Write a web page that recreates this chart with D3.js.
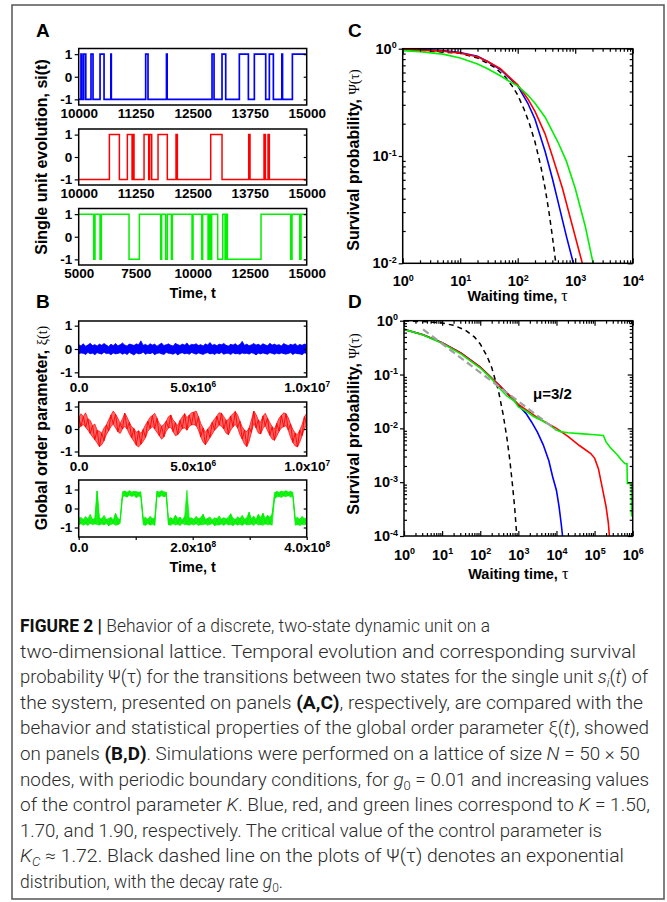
<!DOCTYPE html>
<html><head><meta charset="utf-8">
<script src="https://cdn.jsdelivr.net/npm/d3@7"></script>
<style>body{margin:0;background:#fff}svg{display:block}</style>
</head><body>
<svg id="fig" width="667" height="902"></svg>
<script>
// ---------------- DATA ----------------
// Panel A: single unit s_i(t), state flips (times), starting states
const aTicks12 = [10000, 11250, 12500, 13750, 15000];
const aTicks3 = [5000, 7500, 10000, 12500, 15000];
const stateTicks = [-1, 0, 1];
const blueStartA = -1, redStartA = -1, greenStartA = 1;
const blueFlipsA = [10050,10070,10110,10155,10270,10314,10468,10556,10705,10715,11469,11520,11925,11940,12924,12968,13143,13224,13523,13721,13852,14101,14181,14269,14455,14470,14686];
const redFlipsA = [10673,10892,11067,11170,11184,11213,11433,11535,11557,11601,11740,11943,12134,12164,12895,13143,13728,13757,14064,14094,14152,14181];
const greenFlipsA = [5658,5716,5936,5994,7208,7661,8597,8640,8816,8889,9064,9108,9971,10015,10395,10439,10673,10731,10790,10833,11096,11316,11418,11462,11521,12997,14298,14357,14693,14752];

// Panel B: global order parameter xi(t); upper / lower envelope of the
// fast fluctuations (values x100), evenly sampled in time
const bTimeMax12 = 1e7, bTimeMax3 = 4e8;
const bTicks12 = [0, 5e6, 1e7];
const bTickLabels12 = [["0.0",""],["5.0x10","6"],["1.0x10","7"]];
const bTicks3 = [0, 2e8, 4e8];
const bMinor3 = [1e8, 3e8];
const bTickLabels3 = [["0.0",""],["2.0x10","8"],["4.0x10","8"]];
const blueHi100 = [18,14,22,12,17,25,15,19,13,21,16,24,17,11,20,15,23,14,18,26,
17,13,21,19,15,22,18,35,16,20,14,23,17,21,12,19,25,15,18,22,
16,13,24,19,15,21,17,26,14,20,18,23,15,19,13,22,17,28,16,20,
14,21,18,24,16,13,20,17,22,15,19,33,16,21,14,18,23,17,20,15,
22,18,14,25,17,21,16,19,13,24,18,15,20,17,22,14,19,16,21,18];
const blueLo100 = [-21,-17,-19,-23,-15,-20,-18,-24,-16,-19,-22,-14,-20,-18,-25,-17,-21,-19,-16,-22,
-18,-23,-15,-20,-26,-17,-21,-19,-14,-22,-18,-20,-16,-24,-19,-17,-21,-23,-15,-18,
-20,-22,-17,-25,-19,-16,-21,-18,-23,-15,-19,-22,-17,-20,-24,-18,-16,-21,-19,-23,
-17,-20,-15,-22,-19,-18,-24,-16,-21,-19,-23,-17,-20,-18,-22,-16,-19,-25,-18,-21,
-17,-20,-23,-16,-19,-22,-18,-21,-17,-20,-22,-19,-16,-23,-18,-20,-21,-24,-17,-19];
const redHi100 = [50,68,55,72,45,38,15,22,-5,-10,-18,5,18,40,62,80,66,48,25,45,
70,52,30,10,2,-15,-8,-20,-2,18,35,52,60,70,48,25,12,20,35,55,
62,40,28,15,38,55,68,50,62,72,75,80,55,25,5,-15,0,12,30,45,
58,72,70,55,38,42,58,68,78,62,35,10,-5,-12,5,40,80,65,40,30,
58,70,48,28,10,0,25,48,60,72,68,50,22,-2,-18,-25,-5,20,55,70];
const redLo100 = [5,12,20,8,-5,-20,-35,-48,-62,-78,-70,-52,-25,-8,10,22,5,-12,-20,0,
12,0,-22,-40,-55,-72,-80,-68,-55,-38,-10,2,10,0,-15,-30,-45,-35,-10,5,
8,-12,-30,-25,-12,2,5,-5,12,18,20,15,-5,-35,-58,-70,-55,-38,-22,-5,
5,18,12,0,-18,-25,-5,10,20,5,-25,-45,-68,-78,-55,-15,25,5,-18,-22,
2,15,-8,-28,-45,-50,-32,-10,5,10,15,-5,-38,-60,-75,-80,-58,-30,0,18];
const greenHi100 = [-50,-47,-58,-42,-55,-30,-57,-52,
92,
-50,-54,-36,-58,-52,-47,-60,-26,-52,-57,
88,92,85,93,87,90,89,86,88,
-52,-46,-57,-41,-54,-49,
91,87,93,88,85,
-54,-49,-57,-36,-52,-46,-60,-43,
96,
-51,-49,-58,-41,-54,-47,-31,-57,-52,-45,-60,-49,-54,-39,-57,-48,-55,-46,-28,-51,
-58,-43,-53,-36,-56,-47,-20,-54,-41,-57,-31,-49,-25,-51,-36,-46,-30,
84,89,86,91,88,93,87,90,85,
-52,-46,-57,-41,-54,-49];
const greenLo100 = [-86,-80,-88,-82,-89,-78,-85,-81,
-84,
-87,-82,-86,-79,-90,-84,-80,-88,-85,-79,
62,66,60,70,64,68,58,65,62,
-86,-88,-80,-87,-83,-88,
64,60,68,62,66,
-86,-88,-80,-87,-83,-90,-78,-86,
-84,
-88,-82,-87,-80,-89,-84,-86,-81,-88,-83,-79,-90,-85,-87,-82,-88,-80,-86,-84,-89,
-81,-87,-83,-88,-80,-86,-85,-82,-89,-78,-87,-84,-88,-81,-86,-83,-88,
50,60,64,58,66,62,68,60,64,
-88,-84,-90,-83,-86,-82];

// Panel C: survival probability of single unit
const expTauC = [1,10,20,40,60,80,100,130,160,200,250,300,350,400,460];
const expPsiC = [0.99,0.905,0.82,0.67,0.55,0.45,0.37,0.27,0.2,0.135,0.082,0.05,0.03,0.018,0.01];
const blueTauC = [1,2,5,10,20,30,50,70,100,150,200,300,400,500,700,930];
const bluePsiC = [0.985,0.98,0.96,0.92,0.85,0.76,0.64,0.54,0.45,0.31,0.22,0.11,0.062,0.038,0.018,0.01];
const redTauC = [1,2,5,10,20,30,50,70,100,150,200,300,400,600,900,1330];
const redPsiC = [0.98,0.97,0.95,0.91,0.84,0.76,0.65,0.55,0.46,0.34,0.26,0.16,0.1,0.05,0.022,0.01];
const greenTauC = [1,2,5,10,20,30,50,70,100,150,200,300,500,700,1000,1500,2050];
const greenPsiC = [0.96,0.94,0.89,0.82,0.72,0.65,0.56,0.5,0.45,0.37,0.31,0.23,0.135,0.09,0.05,0.022,0.01];

// Panel D: survival probability of global order parameter
const expTauD = [1,5,10,20,40,70,100,150,200,300,400,500,600,700,800,910];
const expPsiD = [0.99,0.95,0.905,0.82,0.67,0.5,0.37,0.22,0.135,0.05,0.018,0.0067,0.0025,0.0009,0.00034,0.0001];
const blueTauD = [1,3.16,10,31.6,100,316,1000,1580,2240,3160,4470,6310,7940,10000,11700,13200,14450];
const bluePsiD = [0.69,0.55,0.39,0.25,0.138,0.063,0.027,0.019,0.013,0.0085,0.005,0.0025,0.00126,0.0007,0.00035,0.000178,0.0001];
const redTauD = [1,3.16,10,31.6,100,316,1000,3160,10000,20000,40000,79400,100000,126000,158000,200000,229000,245000];
const redPsiD = [0.69,0.55,0.39,0.25,0.138,0.063,0.028,0.0158,0.010,0.0071,0.0048,0.0034,0.0028,0.00178,0.00081,0.00035,0.000178,0.0001];
const greenTauD = [1,3.16,10,31.6,100,200,316,500,794,1000,1580,2510,3980,6310,10000,12600,20000,50000,100000,170000,200000,251000,316000,398000,500000,630000,708000,724000,933000,933000];
const greenPsiD = [0.69,0.54,0.38,0.24,0.132,0.083,0.056,0.04,0.032,0.025,0.021,0.0166,0.0141,0.0117,0.0093,0.0087,0.0083,0.0079,0.0076,0.0074,0.0056,0.0045,0.0038,0.0032,0.0026,0.0022,0.0022,0.00095,0.00095,0.00023];
const powTauD = [3.16, 10000];
const powPsiD = [0.69, 0.0093];

// ---------------- DRAWING ----------------
const SANS = "'Liberation Sans', Arial, Helvetica, sans-serif";
const SERIF = "'Liberation Serif', 'Times New Roman', serif";
const BLUE = "#0000ff", RED = "#ff0000", GREEN = "#00f000";
const svg = d3.select("#fig");
svg.append("rect").attr("width",667).attr("height",902).attr("fill","#fff");
svg.append("rect").attr("x",12).attr("y",5).attr("width",652).attr("height",894)
  .attr("fill","none").attr("stroke","#555").attr("stroke-width",1.5);

let clipId = 0;
function clip(x0,y0,x1,y1){
  const id = "clip"+(clipId++);
  svg.append("clipPath").attr("id",id).append("rect").attr("x",x0).attr("y",y0).attr("width",x1-x0).attr("height",y1-y0);
  return "url(#"+id+")";
}
function styleAxis(g, size){
  g.select(".domain").remove();
  g.attr("font-family",SANS).attr("font-size",size).attr("font-weight","bold");
  g.selectAll("line").attr("stroke","#000").attr("stroke-width",1.2);
  g.selectAll("text").attr("fill","#000");
}
function frame(x0,y0,x1,y1){
  svg.append("rect").attr("x",x0).attr("y",y0).attr("width",x1-x0).attr("height",y1-y0)
    .attr("fill","none").attr("stroke","#000").attr("stroke-width",1.5);
}
function supText(sel, base, exp){
  sel.text(null);
  sel.append("tspan").text(base);
  if (exp !== "") sel.append("tspan").attr("dy","-0.6em").attr("font-size","0.62em").text(exp);
}

const AX0 = 78.7, AX1 = 306.7;
const TICKFS = 13.5;

function timePanel(o){
  const x = d3.scaleLinear().domain(o.xDomain).range([AX0,AX1]);
  const y = d3.scaleLinear().domain(o.yDomain).range([o.y1,o.y0]);
  const cp = clip(AX0,o.y0,AX1,o.y1);
  if (o.pts){
    svg.append("path").datum(o.pts).attr("clip-path",cp)
      .attr("fill","none").attr("stroke",o.color).attr("stroke-width",o.lw)
      .attr("d", d3.line().x(d=>x(d[0])).y(d=>y(d[1])));
  }
  if (o.band){
    const n = o.band.hi.length;
    const rows = o.band.hi.map((h,i)=>({t:i/(n-1)*o.xDomain[1], hi:h/100, lo:o.band.lo[i]/100}));
    svg.append("path").datum(rows).attr("clip-path",cp)
      .attr("fill",o.color).attr("fill-opacity",o.op||1).attr("stroke",o.color).attr("stroke-width",0.7)
      .attr("d", d3.area().x(d=>x(d.t)).y0(d=>y(d.lo)).y1(d=>y(d.hi)));
    const zz = [];
    rows.forEach((r,i)=>{ zz.push([r.t, i%2 ? r.lo : r.hi]); });
    svg.append("path").datum(zz).attr("clip-path",cp)
      .attr("fill","none").attr("stroke",o.color).attr("stroke-width",0.9)
      .attr("d", d3.line().x(d=>x(d[0])).y(d=>y(d[1])));
  }
  const gl = svg.append("g").attr("transform",`translate(${AX0},0)`)
    .call(d3.axisLeft(y).tickValues(stateTicks).tickSize(4).tickPadding(2.5).tickFormat(d=>String(d)));
  styleAxis(gl, TICKFS);
  const gr = svg.append("g").attr("transform",`translate(${AX1},0)`)
    .call(d3.axisLeft(y).tickValues(stateTicks).tickSize(3).tickFormat(""));
  styleAxis(gr, TICKFS);
  const gb = svg.append("g").attr("transform",`translate(0,${o.y1})`)
    .call(d3.axisBottom(x).tickValues(o.xTicks).tickSize(o.bTick||0).tickPadding(o.pad)
      .tickFormat(d=> o.labels ? "" : String(d)));
  styleAxis(gb, TICKFS);
  if (o.labels) gb.selectAll(".tick text").each(function(d,i){ supText(d3.select(this), o.labels[i][0], o.labels[i][1]); });
  if (o.minor){
    const gm = svg.append("g").attr("transform",`translate(0,${o.y1})`)
      .call(d3.axisBottom(x).tickValues(o.minor).tickSize(3).tickFormat(""));
    styleAxis(gm, TICKFS);
  }
  frame(AX0,o.y0,AX1,o.y1);
}

function stepPts(t0,t1,s0,flips){
  const pts=[[t0,s0]]; let s=s0;
  for (const t of flips){ pts.push([t,s]); s=-s; pts.push([t,s]); }
  pts.push([t1,s]); return pts;
}

// Panel A
timePanel({y0:48.5,y1:105,xDomain:[10000,15000],yDomain:[-1.25,1.25],xTicks:aTicks12,pad:3.5,
  pts:stepPts(10000,15000,blueStartA,blueFlipsA),color:BLUE,lw:1.7});
timePanel({y0:129,y1:185,xDomain:[10000,15000],yDomain:[-1.25,1.25],xTicks:aTicks12,pad:3.5,
  pts:stepPts(10000,15000,redStartA,redFlipsA),color:RED,lw:1.5});
timePanel({y0:208.5,y1:265,xDomain:[5000,15000],yDomain:[-1.25,1.25],xTicks:aTicks3,pad:3.5,
  pts:stepPts(5000,15000,greenStartA,greenFlipsA),color:GREEN,lw:1.5});

// Panel B
timePanel({y0:321,y1:377,xDomain:[0,bTimeMax12],yDomain:[-1.2,1.2],xTicks:bTicks12,labels:bTickLabels12,pad:5,
  band:{hi:blueHi100,lo:blueLo100},color:BLUE});
timePanel({y0:402,y1:456,xDomain:[0,bTimeMax12],yDomain:[-1.2,1.2],xTicks:bTicks12,labels:bTickLabels12,pad:5,
  band:{hi:redHi100,lo:redLo100},color:RED,op:0.6});
timePanel({y0:480,y1:537,xDomain:[0,bTimeMax3],yDomain:[-1.5,1.5],xTicks:bTicks3,labels:bTickLabels3,pad:2,bTick:3,minor:bMinor3,
  band:{hi:greenHi100,lo:greenLo100},color:GREEN,op:0.9});

// Log panels
function decades(lo,hi){ const r=[]; for(let e=lo;e<=hi;e++) r.push(Math.pow(10,e)); return r; }
function minors(lo,hi){ const r=[]; for(let e=lo;e<hi;e++) for(let k=2;k<=9;k++) r.push(k*Math.pow(10,e)); return r; }
function logPanel(o){
  const x = d3.scaleLog().domain([1,Math.pow(10,o.xe)]).range([o.x0,o.x1]);
  const y = d3.scaleLog().domain([Math.pow(10,o.ye),1]).range([o.y1,o.y0]);
  const MX = decades(0,o.xe), mx = minors(0,o.xe), MY = decades(o.ye,0), my = minors(o.ye,0);
  const cp = clip(o.x0,o.y0,o.x1,o.y1);
  const line = d3.line().x(d=>x(d[0])).y(d=>y(d[1]));
  o.series.forEach(s=>{
    const pts = s.tau.map((t,i)=>[t,s.psi[i]]);
    svg.append("path").datum(pts).attr("clip-path",cp).attr("fill","none")
      .attr("stroke",s.color).attr("stroke-width",s.lw).attr("stroke-dasharray",s.dash||null)
      .attr("d",line);
  });
  const fs = 14.5;
  const gl = svg.append("g").attr("transform",`translate(${o.x0},0)`)
    .call(d3.axisLeft(y).tickValues(MY).tickSize(4).tickPadding(2).tickFormat(""));
  styleAxis(gl, fs);
  gl.selectAll(".tick text").each(function(d){ supText(d3.select(this),"10",String(Math.round(Math.log10(d)))); });
  styleAxis(svg.append("g").attr("transform",`translate(${o.x0},0)`).call(d3.axisRight(y).tickValues(my).tickSize(3).tickFormat("")), fs);
  styleAxis(svg.append("g").attr("transform",`translate(${o.x1},0)`).call(d3.axisLeft(y).tickValues(MY).tickSize(5).tickFormat("")), fs);
  styleAxis(svg.append("g").attr("transform",`translate(${o.x1},0)`).call(d3.axisLeft(y).tickValues(my).tickSize(3).tickFormat("")), fs);
  styleAxis(svg.append("g").attr("transform",`translate(0,${o.y0})`).call(d3.axisBottom(x).tickValues(MX).tickSize(5).tickFormat("")), fs);
  styleAxis(svg.append("g").attr("transform",`translate(0,${o.y0})`).call(d3.axisBottom(x).tickValues(mx).tickSize(3).tickFormat("")), fs);
  styleAxis(svg.append("g").attr("transform",`translate(0,${o.y1})`).call(d3.axisTop(x).tickValues(MX).tickSize(5).tickFormat("")), fs);
  styleAxis(svg.append("g").attr("transform",`translate(0,${o.y1})`).call(d3.axisTop(x).tickValues(mx).tickSize(3).tickFormat("")), fs);
  const gb = svg.append("g").attr("transform",`translate(0,${o.y1})`)
    .call(d3.axisBottom(x).tickValues(MX).tickSize(0).tickPadding(o.pad).tickFormat(""));
  styleAxis(gb, fs);
  gb.selectAll(".tick text").each(function(d){ supText(d3.select(this),"10",String(Math.round(Math.log10(d)))); });
  frame(o.x0,o.y0,o.x1,o.y1);
}

logPanel({x0:402.7,x1:632.7,y0:48.7,y1:263.3,xe:4,ye:-2,pad:12.5,series:[
  {tau:expTauC,psi:expPsiC,color:"#000",lw:1.5,dash:"5,4"},
  {tau:blueTauC,psi:bluePsiC,color:BLUE,lw:1.6},
  {tau:redTauC,psi:redPsiC,color:RED,lw:1.6},
  {tau:greenTauC,psi:greenPsiC,color:GREEN,lw:1.6}]});
logPanel({x0:404,x1:632.7,y0:320.7,y1:536,xe:6,ye:-4,pad:13.5,series:[
  {tau:expTauD,psi:expPsiD,color:"#000",lw:1.5,dash:"5,4"},
  {tau:blueTauD,psi:bluePsiD,color:BLUE,lw:1.6},
  {tau:redTauD,psi:redPsiD,color:RED,lw:1.6},
  {tau:greenTauD,psi:greenPsiD,color:GREEN,lw:1.6},
  {tau:powTauD,psi:powPsiD,color:"#a0a0a0",lw:2.2,dash:"7,4"}]});

svg.append("text").attr("x",533).attr("y",399).attr("font-family",SANS).attr("font-weight","bold")
  .attr("font-size",15).text("\u03bc=3/2");

// Titles
function txt(x,y,size,str,anchor){
  return svg.append("text").attr("x",x).attr("y",y).attr("font-family",SANS).attr("font-weight","bold")
    .attr("font-size",size).attr("text-anchor",anchor||"middle").attr("fill","#000").text(str);
}
txt(36,37,19,"A","start"); txt(36,308,19,"B","start");
txt(348,37,19,"C","start"); txt(348,308,19,"D","start");
txt(192.7,297.5,14.5,"Time, t"); txt(192.7,571.5,14.5,"Time, t");
function waiting(x,y){
  const t = txt(x,y,14.5,"");
  t.append("tspan").text("Waiting time, ");
  t.append("tspan").attr("font-family",SERIF).attr("font-weight","normal").attr("font-size",16).text("\u03c4");
}
waiting(517.7,301); waiting(518.3,578.5);
function ylab(cx,cy,main,sym){
  const t = svg.append("text").attr("transform",`translate(${cx},${cy}) rotate(-90)`)
    .attr("text-anchor","middle").attr("font-family",SANS).attr("font-weight","bold").attr("font-size",16).attr("fill","#000");
  t.append("tspan").text(main);
  if (sym) t.append("tspan").attr("font-family",SERIF).attr("font-weight","normal").attr("font-size",14).text(sym);
}
ylab(47,157,"Single unit evolution, si(t)");
ylab(47,428,"Global order parameter, ","\u03be(t)");
ylab(359,160,"Survival probability, ","\u03a8(\u03c4)");
ylab(359,424,"Survival probability, ","\u03a8(\u03c4)");

// Caption
const captionLines = [
 [["FIGURE 2 |","b"],[" Behavior of a discrete, two-state dynamic unit on a","n"]],
 [["two-dimensional lattice. Temporal evolution and corresponding survival","n"]],
 [["probability \u03a8(\u03c4) for the transitions between two states for the single unit ","n"],["s","i"],["i","isub"],["(","n"],["t","i"],[") of","n"]],
 [["the system, presented on panels ","n"],["(A,C)","b"],[", respectively, are compared with the","n"]],
 [["behavior and statistical properties of the global order parameter \u03be(","n"],["t","i"],["), showed","n"]],
 [["on panels ","n"],["(B,D)","b"],[". Simulations were performed on a lattice of size ","n"],["N","i"],[" = 50 \u00d7 50","n"]],
 [["nodes, with periodic boundary conditions, for ","n"],["g","i"],["0","sub"],[" = 0.01 and increasing values","n"]],
 [["of the control parameter ","n"],["K","i"],[". Blue, red, and green lines correspond to ","n"],["K","i"],[" = 1.50,","n"]],
 [["1.70, and 1.90, respectively. The critical value of the control parameter is","n"]],
 [["K","i"],["C","isub"],[" \u2248 1.72. Black dashed line on the plots of \u03a8(\u03c4) denotes an exponential","n"]],
 [["distribution, with the decay rate ","n"],["g","i"],["0","sub"],[".","n"]]
];
const captionEnds = [490,636,648,643,649,640,649,650,602,624,283];
captionLines.forEach((segs,li)=>{
  const t = svg.append("text").attr("x",20).attr("y",632+li*25.6)
    .attr("font-family","Roboto, 'Liberation Sans', sans-serif").attr("font-weight",300)
    .attr("font-size",17.5).attr("fill","#2a2a2a")
    .attr("textLength",captionEnds[li]-20).attr("lengthAdjust","spacingAndGlyphs");
  let shifted = false;
  segs.forEach(([s,st])=>{
    const sp = t.append("tspan").text(s);
    if (st==="b") sp.attr("font-weight","bold").attr("fill","#111");
    if (st==="i"||st==="isub") sp.attr("font-style","italic");
    if (st==="sub"||st==="isub"){ sp.attr("font-size",12).attr("dy",4); shifted=true; }
    else if (shifted){ sp.attr("dy",-4); shifted=false; }
  });
});
</script>
</body></html>
